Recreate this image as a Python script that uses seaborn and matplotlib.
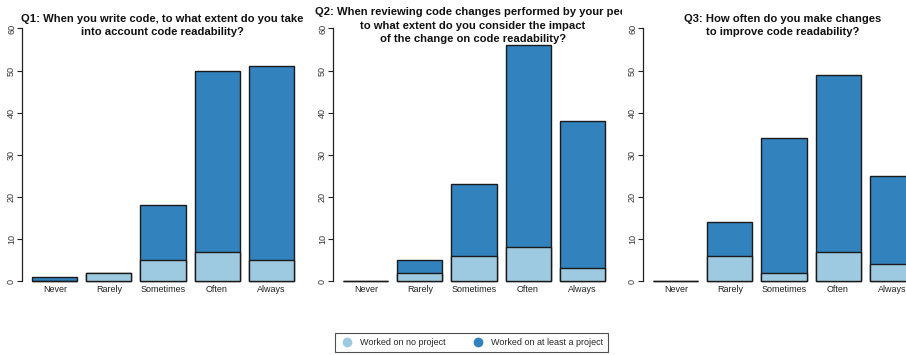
import matplotlib
matplotlib.use("Agg")
import matplotlib.pyplot as plt
import seaborn as sns
import numpy as np
from matplotlib.lines import Line2D
from matplotlib.transforms import Bbox

sns.set_style("white")
plt.rcParams['font.family'] = ['Liberation Sans', 'DejaVu Sans']

categories = ["Never", "Rarely", "Sometimes", "Often", "Always"]
titles = [
    "Q1: When you write code, to what extent do you take\ninto account code readability?",
    "Q2: When reviewing code changes performed by your peer\nto what extent do you consider the impact\nof the change on code readability?",
    "Q3: How often do you make changes\nto improve code readability?",
]
q1_none = [0, 2, 5, 7, 5]
q1_atleast = [1, 0, 13, 43, 46]
q2_none = [0, 2, 6, 8, 3]
q2_atleast = [0, 3, 17, 48, 35]
q3_none = [0, 6, 2, 7, 4]
q3_atleast = [0, 8, 32, 42, 21]
yticks = [0, 10, 20, 30, 40, 50, 60]
legend_labels = ["Worked on no project", "Worked on at least a project"]

light = "#9ECAE1"
dark = "#3182BD"

W, H = 906, 355
fig = plt.figure(figsize=(W / 100, H / 100), dpi=100)

lefts_px = [22, 333, 643]
plot_w_px = 282
top_px = 18.4
bot_px = 291.1

data = [(q1_none, q1_atleast), (q2_none, q2_atleast), (q3_none, q3_atleast)]

for i, (none, atleast) in enumerate(data):
    l = lefts_px[i] / W
    b = (H - bot_px) / H
    w = plot_w_px / W
    h = (bot_px - top_px) / H
    ax = fig.add_axes([l, b, w, h])
    total = list(np.array(none) + np.array(atleast))
    sns.barplot(x=categories, y=total, color=dark, saturation=1, width=1 / 1.2,
                edgecolor="#1a1a1a", linewidth=1.0, ax=ax)
    sns.barplot(x=categories, y=none, color=light, saturation=1, width=1 / 1.2,
                edgecolor="#1a1a1a", linewidth=1.0, ax=ax)
    ax.set_xlim(-0.61, 4.61)
    ax.set_ylim(-2.4, 62.4)
    for s in ["top", "right", "bottom"]:
        ax.spines[s].set_visible(False)
    ax.spines["left"].set_bounds(0, 60)
    ax.spines["left"].set_color("#222222")
    ax.spines["left"].set_linewidth(0.9)
    ax.set_yticks(yticks)
    ax.set_yticklabels([str(t) for t in yticks], rotation=90, va="center",
                       fontsize=6.5, color="#333333")
    ax.tick_params(axis="y", length=3.5, width=0.8, pad=0.8, color="#222222", left=True)
    ax.tick_params(axis="x", length=0, pad=-4.5, labelsize=6.5, labelcolor="#222222")
    ax.set_xlabel("")
    ax.set_ylabel("")
    cx = (lefts_px[i] - 1 + plot_w_px / 2) / W
    lines = titles[i].split("\n")
    n = len(lines)
    for k, line in enumerate(lines):
        ypx = 25.6 + (k - (n - 1) / 2) * 13.6
        t = fig.text(cx, 1 - ypx / H, line, ha="center", va="center",
                     fontsize=8.1, fontweight="bold", color="#111111")
        if i == 1:
            t.set_clip_box(Bbox.from_extents(0, 0, 622, H))
            t.set_clip_on(True)

handles = [Line2D([], [], marker="o", linestyle="", markersize=6,
                  markerfacecolor=c, markeredgecolor=c) for c in (light, dark)]
leg = fig.legend(handles, legend_labels, loc="center",
                 bbox_to_anchor=(471.5 / W, 1 - 342.5 / H), ncol=2, frameon=True,
                 fontsize=6.5, handletextpad=0.6, columnspacing=2.8,
                 borderpad=0.5, fancybox=False, edgecolor="#222222", handlelength=1.67)
leg.get_frame().set_linewidth(0.8)

fig.savefig("out.png", dpi=100)
